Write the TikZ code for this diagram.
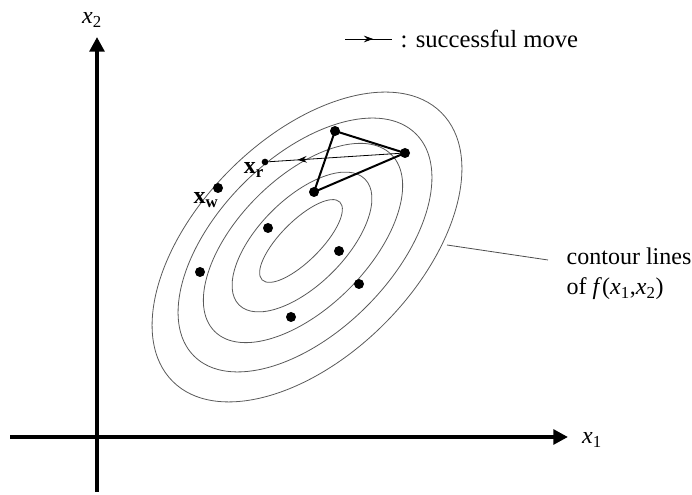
\documentclass[tikz,border=0pt]{standalone}
\usepackage{fontspec}
\setmainfont{Liberation Serif}
\usetikzlibrary{arrows.meta,decorations.markings}

\tikzset{
  axis/.style={line width=3pt, -{Triangle[length=11pt,width=11pt]}},
  contour/.style={draw=black!65, line width=0.6pt},
  dot/.style={circle, fill=black, inner sep=0pt, minimum size=7.5pt},
  smalldot/.style={circle, fill=black, inner sep=0pt, minimum size=5pt},
  simplex/.style={line width=1.5pt, line join=round},
  move/.style={line width=0.6pt},
  midarrow/.style={postaction={decorate}, decoration={markings,
      mark=at position #1 with {\arrow{Stealth[length=7pt,width=5pt,inset=2.5pt]}}}},
}

\begin{document}
\begin{tikzpicture}[x=0.75pt, y=0.75pt, every node/.style={font=\fontsize{18}{22.5}\selectfont}]
  \useasboundingbox (0,0) rectangle (692,495);

  % axes
  \coordinate (xstart) at (10,58);
  \coordinate (xend) at (568,58);
  \coordinate (ystart) at (97,3);
  \coordinate (yend) at (97,458);
  \draw[axis] (xstart) -- (xend);
  \draw[axis] (ystart) -- (yend);
  \node (xone) at (592,55) {\textit{x}\textsubscript{1}};
  \node (xtwo) at (92,475) {\textit{x}\textsubscript{2}};

  % contour lines
  \foreach \cx/\cy/\a/\b in {301/254/55/20, 302/253/89/43, 303/252/125/65, 305/250/157/87, 307/248/190/109}
    \draw[contour] (\cx,\cy) ellipse [x radius=\a, y radius=\b, rotate=45];

  % points
  \node[dot] (p1) at (268,267) {};
  \node[dot] (p2) at (339,244) {};
  \node[dot] (p3) at (200,223) {};
  \node[dot] (p4) at (359,211) {};
  \node[dot] (p5) at (291,178) {};
  \node[dot] (xw) at (218,307) {};
  \node[smalldot] (xr) at (265,333) {};
  \node[dot] (v1) at (335,364) {};
  \node[dot] (v2) at (405,342) {};
  \node[dot] (v3) at (314,303) {};
  \node (xwlab) at (206,295) {\textbf{x}\textsubscript{\textbf{w}}};
  \node (xrlab) at (254,325) {\textbf{x}\textsubscript{\textbf{r}}};

  % simplex and move
  \draw[simplex] (v1.center) -- (v2.center) -- (v3.center) -- cycle;
  \draw[move, midarrow=0.78] (v2) -- (xr);

  % legend
  \coordinate (lega) at (345,456);
  \coordinate (legb) at (392,456);
  \draw[move, midarrow=0.6] (lega) -- (legb);
  \node[anchor=west, font=\fontsize{18.5}{22.5}\selectfont] (legtext) at (396,456) {: successful move};

  % label of the contours
  \coordinate (lead) at (447,250);
  \coordinate (leadend) at (548,235);
  \draw[move, draw=black!70] (lead) -- (leadend);
  \node[anchor=west, align=left] (clabel) at (562,221)
    {contour lines\\of \textit{f}(\textit{x}\textsubscript{1},\textit{x}\textsubscript{2})};
\end{tikzpicture}
\end{document}
